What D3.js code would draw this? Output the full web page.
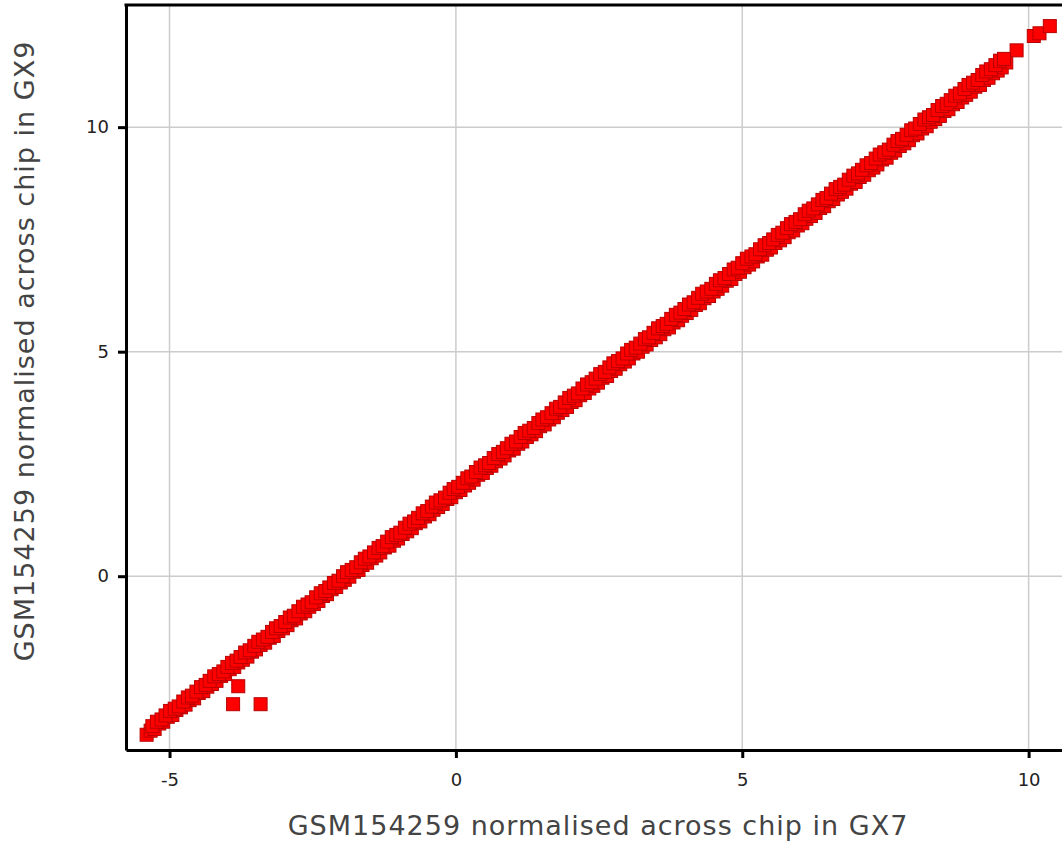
<!DOCTYPE html>
<html>
<head>
<meta charset="utf-8">
<script src="https://cdn.jsdelivr.net/npm/d3@7"></script>
<style>
  html, body { margin: 0; padding: 0; background: #ffffff; overflow: hidden; }
  svg { display: block; }
  text { font-family: "DejaVu Sans", Verdana, sans-serif; }
</style>
</head>
<body>
<script>
// Normalised expression of GSM154259: GX7 (x) against GX9 (y), one entry per probe
const gx7 = [
  -5.40, -5.33, -5.26, -5.18, -5.11, -5.03, -4.95, -4.88, -4.80, -4.72,
  -4.65, -4.57, -4.49, -4.41, -4.34, -4.26, -4.18, -4.10, -4.03, -3.95,
  -3.87, -3.80, -3.72, -3.64, -3.56, -3.49, -3.41, -3.33, -3.25, -3.18,
  -3.10, -3.02, -2.94, -2.87, -2.79, -2.71, -2.63, -2.56, -2.48, -2.40,
  -2.32, -2.25, -2.17, -2.09, -2.01, -1.94, -1.86, -1.78, -1.70, -1.63,
  -1.55, -1.47, -1.39, -1.32, -1.24, -1.16, -1.08, -1.01, -0.93, -0.85,
  -0.77, -0.70, -0.62, -0.54, -0.46, -0.39, -0.31, -0.23, -0.15, -0.08,
   0.00,  0.08,  0.16,  0.23,  0.31,  0.39,  0.47,  0.54,  0.62,  0.70,
   0.78,  0.85,  0.93,  1.01,  1.09,  1.16,  1.24,  1.32,  1.40,  1.47,
   1.55,  1.63,  1.71,  1.78,  1.86,  1.94,  2.02,  2.09,  2.17,  2.25,
   2.33,  2.40,  2.48,  2.56,  2.64,  2.71,  2.79,  2.87,  2.95,  3.02,
   3.10,  3.18,  3.26,  3.33,  3.41,  3.49,  3.57,  3.64,  3.72,  3.80,
   3.88,  3.95,  4.03,  4.11,  4.19,  4.26,  4.34,  4.42,  4.50,  4.57,
   4.65,  4.73,  4.81,  4.88,  4.96,  5.04,  5.12,  5.19,  5.27,  5.35,
   5.43,  5.50,  5.58,  5.66,  5.74,  5.81,  5.89,  5.97,  6.05,  6.12,
   6.20,  6.28,  6.36,  6.43,  6.51,  6.59,  6.67,  6.74,  6.82,  6.90,
   6.98,  7.05,  7.13,  7.21,  7.29,  7.36,  7.44,  7.52,  7.60,  7.67,
   7.75,  7.83,  7.91,  7.98,  8.06,  8.14,  8.22,  8.29,  8.37,  8.45,
   8.53,  8.60,  8.68,  8.76,  8.84,  8.91,  8.99,  9.07,  9.15,  9.22,
   9.30,  9.38,  9.46,  9.53,  9.61,  9.79, 10.09, 10.19, 10.37,
  -5.30, -5.22, -5.14, -5.07, -4.99, -4.91, -4.84, -4.76, -4.68, -4.61,
  -4.53, -4.45, -4.37, -4.30, -4.22, -4.14, -4.06, -3.99, -3.91, -3.83,
  -3.76, -3.68, -3.60, -3.52, -3.45, -3.37, -3.29, -3.21, -3.14, -3.06,
  -2.98, -2.90, -2.83, -2.75, -2.67, -2.59, -2.52, -2.44, -2.36, -2.28,
  -2.21, -2.13, -2.05, -1.97, -1.90, -1.82, -1.74, -1.66, -1.59, -1.51,
  -1.43, -1.35, -1.28, -1.20, -1.12, -1.04, -0.97, -0.89, -0.81, -0.73,
  -0.66, -0.58, -0.50, -0.42, -0.35, -0.27, -0.19, -0.11, -0.04,  0.04,
   0.12,  0.20,  0.27,  0.35,  0.43,  0.51,  0.58,  0.66,  0.74,  0.82,
   0.89,  0.97,  1.05,  1.13,  1.20,  1.28,  1.36,  1.44,  1.51,  1.59,
   1.67,  1.75,  1.82,  1.90,  1.98,  2.06,  2.13,  2.21,  2.29,  2.37,
   2.44,  2.52,  2.60,  2.68,  2.75,  2.83,  2.91,  2.99,  3.06,  3.14,
   3.22,  3.30,  3.37,  3.45,  3.53,  3.61,  3.68,  3.76,  3.84,  3.92,
   3.99,  4.07,  4.15,  4.23,  4.30,  4.38,  4.46,  4.54,  4.61,  4.69,
   4.77,  4.85,  4.92,  5.00,  5.08,  5.16,  5.23,  5.31,  5.39,  5.47,
   5.54,  5.62,  5.70,  5.78,  5.85,  5.93,  6.01,  6.09,  6.16,  6.24,
   6.32,  6.40,  6.47,  6.55,  6.63,  6.71,  6.78,  6.86,  6.94,  7.02,
   7.09,  7.17,  7.25,  7.33,  7.40,  7.48,  7.56,  7.64,  7.71,  7.79,
   7.87,  7.95,  8.02,  8.10,  8.18,  8.26,  8.33,  8.41,  8.49,  8.57,
   8.64,  8.72,  8.80,  8.88,  8.95,  9.03,  9.11,  9.19,  9.26,  9.34,
   9.42,  9.50,  9.57,
  -3.80, -3.89, -3.41
];
const gx9 = [
  -3.53, -3.44, -3.40, -3.28, -3.24, -3.13, -3.09, -2.98, -2.92, -2.86,
  -2.76, -2.72, -2.60, -2.56, -2.46, -2.40, -2.33, -2.22, -2.18, -2.07,
  -2.02, -1.92, -1.86, -1.79, -1.68, -1.63, -1.53, -1.48, -1.37, -1.33,
  -1.22, -1.16, -1.09, -0.98, -0.94, -0.83, -0.78, -0.68, -0.62, -0.55,
  -0.44, -0.40, -0.29, -0.24, -0.14, -0.08, -0.01,  0.10,  0.14,  0.25,
   0.30,  0.40,  0.46,  0.53,  0.64,  0.68,  0.79,  0.84,  0.94,  1.00,
   1.07,  1.18,  1.22,  1.33,  1.38,  1.48,  1.54,  1.61,  1.72,  1.76,
   1.87,  1.92,  2.02,  2.08,  2.15,  2.26,  2.30,  2.41,  2.46,  2.56,
   2.62,  2.69,  2.80,  2.84,  2.95,  3.00,  3.10,  3.16,  3.23,  3.34,
   3.38,  3.49,  3.54,  3.64,  3.70,  3.77,  3.88,  3.92,  4.03,  4.08,
   4.18,  4.24,  4.31,  4.42,  4.46,  4.57,  4.62,  4.72,  4.78,  4.85,
   4.96,  5.00,  5.11,  5.16,  5.26,  5.32,  5.39,  5.50,  5.54,  5.65,
   5.70,  5.80,  5.86,  5.93,  6.04,  6.08,  6.19,  6.24,  6.34,  6.40,
   6.47,  6.58,  6.62,  6.73,  6.78,  6.88,  6.94,  7.01,  7.12,  7.16,
   7.27,  7.32,  7.42,  7.48,  7.55,  7.66,  7.70,  7.81,  7.86,  7.96,
   8.02,  8.09,  8.20,  8.24,  8.35,  8.40,  8.50,  8.56,  8.63,  8.74,
   8.78,  8.89,  8.94,  9.04,  9.10,  9.17,  9.28,  9.32,  9.43,  9.48,
   9.58,  9.64,  9.71,  9.82,  9.86,  9.97, 10.02, 10.12, 10.18, 10.25,
  10.36, 10.40, 10.51, 10.56, 10.66, 10.72, 10.79, 10.90, 10.94, 11.05,
  11.10, 11.20, 11.26, 11.33, 11.44, 11.71, 12.03, 12.09, 12.25,
  -3.34, -3.24, -3.19, -3.10, -3.00, -2.95, -2.90, -2.79, -2.70, -2.66,
  -2.57, -2.47, -2.42, -2.33, -2.23, -2.18, -2.12, -2.02, -1.93, -1.88,
  -1.80, -1.70, -1.65, -1.55, -1.46, -1.41, -1.35, -1.24, -1.16, -1.11,
  -1.02, -0.92, -0.88, -0.78, -0.68, -0.63, -0.58, -0.47, -0.38, -0.33,
  -0.25, -0.15, -0.10,  0.00,  0.09,  0.14,  0.20,  0.31,  0.39,  0.44,
   0.53,  0.63,  0.67,  0.77,  0.87,  0.92,  0.97,  1.08,  1.17,  1.22,
   1.30,  1.40,  1.45,  1.55,  1.64,  1.69,  1.75,  1.86,  1.94,  1.99,
   2.08,  2.18,  2.22,  2.32,  2.42,  2.47,  2.52,  2.63,  2.72,  2.77,
   2.85,  2.95,  3.00,  3.10,  3.19,  3.24,  3.30,  3.41,  3.49,  3.54,
   3.63,  3.73,  3.77,  3.87,  3.97,  4.02,  4.07,  4.18,  4.27,  4.32,
   4.40,  4.50,  4.55,  4.65,  4.74,  4.79,  4.85,  4.96,  5.04,  5.09,
   5.18,  5.28,  5.32,  5.42,  5.52,  5.57,  5.62,  5.73,  5.82,  5.87,
   5.95,  6.05,  6.10,  6.20,  6.29,  6.34,  6.40,  6.51,  6.59,  6.64,
   6.73,  6.83,  6.87,  6.97,  7.07,  7.12,  7.17,  7.28,  7.37,  7.42,
   7.50,  7.60,  7.65,  7.75,  7.84,  7.89,  7.95,  8.06,  8.14,  8.19,
   8.28,  8.38,  8.42,  8.52,  8.62,  8.67,  8.72,  8.83,  8.92,  8.97,
   9.05,  9.15,  9.20,  9.30,  9.39,  9.44,  9.50,  9.61,  9.69,  9.74,
   9.83,  9.93,  9.97, 10.07, 10.17, 10.22, 10.27, 10.38, 10.47, 10.52,
  10.60, 10.70, 10.75, 10.85, 10.94, 10.99, 11.05, 11.16, 11.24, 11.29,
  11.38, 11.48, 11.52,
  -2.45, -2.85, -2.85
];
const xTicks = [-5, 0, 5, 10];
const yTicks = [0, 5, 10];
const xTitle = "GSM154259 normalised across chip in GX7";
const yTitle = "GSM154259 normalised across chip in GX9";

const W = 1062, H = 848;
const plotLeft = 126, plotRight = 1071, plotTop = 5, plotBottom = 750;

const svg = d3.select("body").append("svg")
  .attr("width", W).attr("height", H);

const x = d3.scaleLinear().domain([-5.76, 10.74]).range([plotLeft, plotRight]);
const y = d3.scaleLinear().domain([-3.87, 12.72]).range([plotBottom, plotTop]);

// grid lines
const grid = svg.append("g").attr("stroke", "#cccccc").attr("stroke-width", 1.5);
grid.selectAll("line.gx").data(xTicks).join("line").attr("class", "gx")
  .attr("x1", d => x(d)).attr("x2", d => x(d))
  .attr("y1", plotTop).attr("y2", plotBottom);
grid.selectAll("line.gy").data(yTicks).join("line").attr("class", "gy")
  .attr("x1", plotLeft).attr("x2", plotRight)
  .attr("y1", d => y(d)).attr("y2", d => y(d));

// points as filled squares
const pts = gx7.map((v, i) => ({ x: v, y: gx9[i] }));
const side = 13;
svg.append("g")
  .selectAll("rect").data(pts).join("rect")
  .attr("x", d => x(d.x) - side / 2)
  .attr("y", d => y(d.y) - side / 2)
  .attr("width", side).attr("height", side)
  .attr("fill", "#ff0000")
  .attr("stroke", "#b80000")
  .attr("stroke-width", 1);

// axes
const xAxis = d3.axisBottom(x).tickValues(xTicks).tickSize(8).tickSizeOuter(0)
  .tickPadding(15).tickFormat(d => String(d));
const yAxis = d3.axisLeft(y).tickValues(yTicks).tickSize(8).tickSizeOuter(0)
  .tickPadding(9).tickFormat(d => String(d));

const gx = svg.append("g").attr("transform", `translate(0,${plotBottom})`).call(xAxis);
const gy = svg.append("g").attr("transform", `translate(${plotLeft},0)`).call(yAxis);

[gx, gy].forEach(g => {
  g.select(".domain").attr("stroke", "#000").attr("stroke-width", 3);
  g.selectAll(".tick line").attr("stroke", "#000").attr("stroke-width", 3);
  g.selectAll(".tick text").attr("fill", "#222").style("font-size", "18px")
    .style("font-family", "'DejaVu Sans', sans-serif");
});

// top frame
svg.append("line")
  .attr("x1", plotLeft - 1.5).attr("x2", plotRight)
  .attr("y1", plotTop).attr("y2", plotTop)
  .attr("stroke", "#000").attr("stroke-width", 3);

// axis titles
svg.append("text")
  .attr("x", 598).attr("y", 835)
  .attr("text-anchor", "middle")
  .attr("fill", "#444")
  .style("font-size", "27px").style("letter-spacing", "1px")
  .text(xTitle);

svg.append("text")
  .attr("transform", "translate(34,351) rotate(-90)")
  .attr("text-anchor", "middle")
  .attr("fill", "#444")
  .style("font-size", "27px").style("letter-spacing", "1px")
  .text(yTitle);
</script>
</body>
</html>
